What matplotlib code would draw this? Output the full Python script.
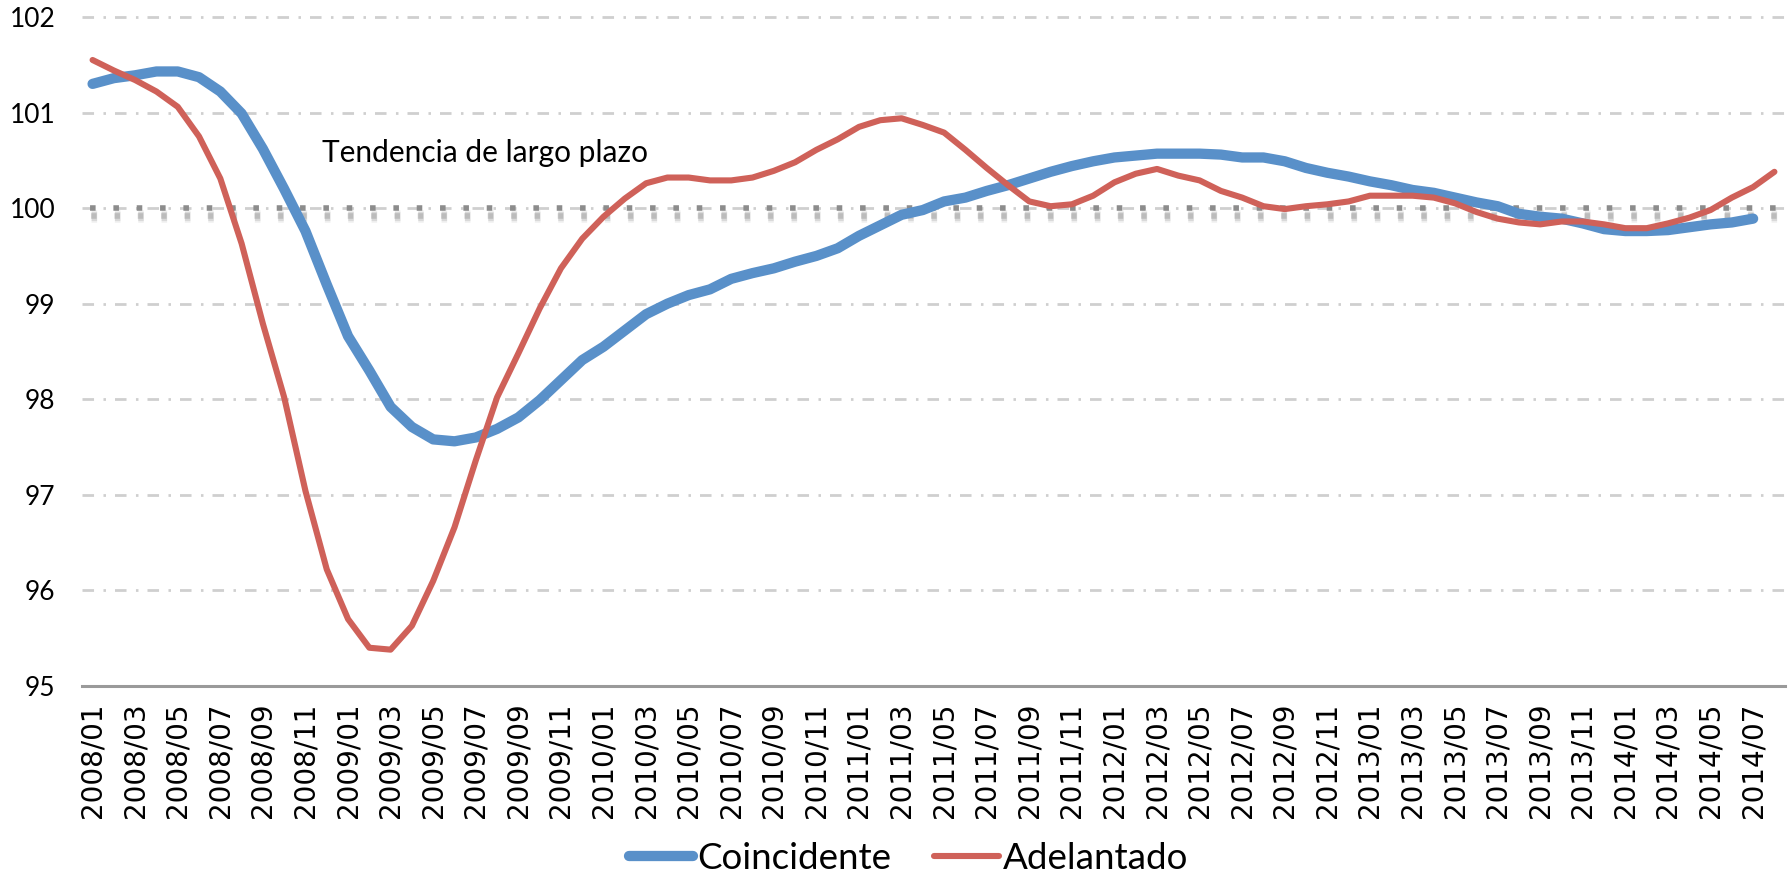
import matplotlib
matplotlib.use("Agg")
import matplotlib.pyplot as plt
import matplotlib.patheffects as pe

# meses 2008/01 .. 2014/08
meses = [f"{a}/{m:02d}" for a in range(2008, 2015) for m in range(1, 13)][:80]

coincidente = [
    101.30, 101.36, 101.39, 101.43, 101.43, 101.37, 101.22, 100.99, 100.62, 100.20,
    99.76, 99.20, 98.66, 98.30, 97.92, 97.71, 97.58, 97.56, 97.60, 97.69,
    97.81, 97.99, 98.20, 98.41, 98.55, 98.72, 98.89, 99.00, 99.09, 99.15,
    99.26, 99.32, 99.37, 99.44, 99.50, 99.58, 99.71, 99.82, 99.93, 99.98,
    100.07, 100.11, 100.18, 100.24, 100.31, 100.38, 100.44, 100.49, 100.53, 100.55,
    100.57, 100.57, 100.57, 100.56, 100.53, 100.53, 100.49, 100.42, 100.37, 100.33,
    100.28, 100.24, 100.19, 100.16, 100.11, 100.06, 100.02, 99.94, 99.91, 99.89,
    99.84, 99.78, 99.76, 99.76, 99.77, 99.80, 99.83, 99.85, 99.89,
]

adelantado = [
    101.55, 101.44, 101.34, 101.22, 101.06, 100.75, 100.31, 99.63, 98.79, 98.02,
    97.04, 96.22, 95.70, 95.40, 95.38, 95.63, 96.10, 96.66, 97.36, 98.02,
    98.48, 98.95, 99.37, 99.68, 99.91, 100.10, 100.26, 100.32, 100.32, 100.29,
    100.29, 100.32, 100.39, 100.48, 100.61, 100.72, 100.85, 100.92, 100.94, 100.87,
    100.79, 100.61, 100.42, 100.24, 100.07, 100.02, 100.04, 100.13, 100.27, 100.36,
    100.41, 100.34, 100.29, 100.18, 100.11, 100.02, 99.99, 100.02, 100.04, 100.07,
    100.13, 100.13, 100.13, 100.11, 100.05, 99.96, 99.89, 99.85, 99.83, 99.86,
    99.86, 99.83, 99.79, 99.79, 99.84, 99.90, 99.98, 100.11, 100.22, 100.38,
]

tendencia = 100
y_ticks = [95, 96, 97, 98, 99, 100, 101, 102]

AZUL = "#5990c9"
ROJO = "#cf6159"
FUENTE = "Lato"

fig = plt.figure(figsize=(17.89, 8.80), dpi=100)
ax = fig.add_axes([0.0458, 0.2205, 0.952, 0.7602])

# rejilla horizontal raya-punto
for v in y_ticks[1:]:
    ax.axhline(v, color="#cfcfcf", lw=2.0, linestyle=(0, (4.15, 3.4, 0.9, 3.25)),
               zorder=1, clip_on=False)

# tendencia de largo plazo con sombra difusa
sombra = [pe.SimpleLineShadow(offset=(0.6, -5.5), shadow_color="#6a6a6a", alpha=a, rho=1, linewidth=w)
          for a, w in [(0.10, 9.0), (0.16, 6.5), (0.26, 4.0)]]
ax.axhline(tendencia, color="#8c8c8c", lw=4.0, linestyle=(2.75, (1.0, 3.2)),
           dash_capstyle="butt", zorder=2, path_effects=sombra + [pe.Normal()])

x_c = range(len(coincidente))
x_a = range(len(adelantado))
ax.plot(x_c, coincidente, color=AZUL, lw=7.4, solid_capstyle="round",
        solid_joinstyle="round", zorder=3, label="Coincidente")
ax.plot(x_a, adelantado, color=ROJO, lw=4.4, solid_capstyle="round",
        solid_joinstyle="round", zorder=4, label="Adelantado")

ax.text(10.78, 100.48, "Tendencia de largo plazo", fontsize=21.5, family=FUENTE,
        ha="left", va="baseline", color="black")

ax.set_xlim(-0.5, len(meses) - 0.5)
ax.set_ylim(95, 102)
ax.set_yticks(y_ticks)
ax.set_yticklabels([str(v) for v in y_ticks], fontsize=19, family=FUENTE)
ax.set_xticks(range(0, len(meses), 2))
ax.set_xticklabels(meses[::2], rotation=90, fontsize=20, family="DejaVu Sans")
ax.tick_params(axis="y", length=0, pad=19)
ax.tick_params(axis="x", length=0, pad=12)

for s in ["top", "left", "right"]:
    ax.spines[s].set_visible(False)
ax.spines["bottom"].set_color("#9a9a9a")
ax.spines["bottom"].set_linewidth(2.2)

fig.legend(loc="center", bbox_to_anchor=(0.5077, 0.024), ncol=2, frameon=False,
           prop={"family": FUENTE, "size": 26.5}, handlelength=1.76,
           handletextpad=0.1, columnspacing=1.17, borderpad=0)

fig.savefig("out.png", dpi=100)
